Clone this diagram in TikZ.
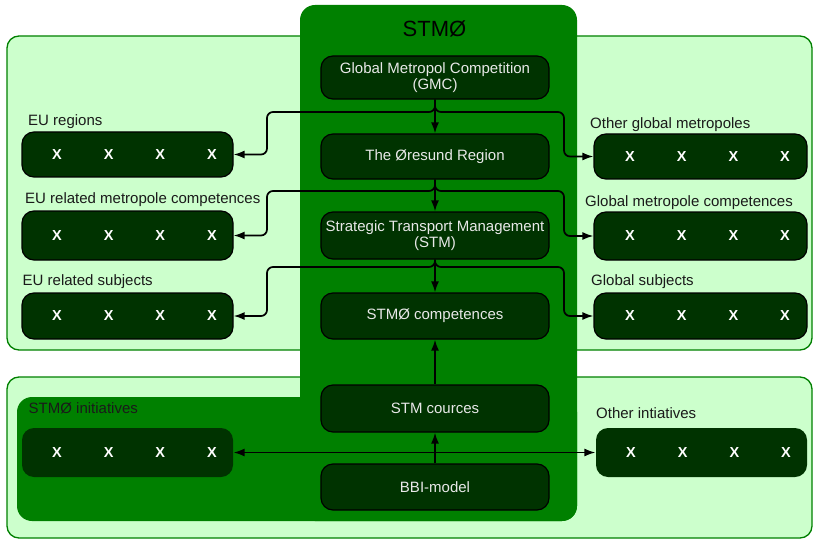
\documentclass[tikz,border=0pt]{standalone}
\usepackage{fontspec}
\setmainfont{Liberation Sans}
\usetikzlibrary{arrows.meta}
\definecolor{lightgreen}{HTML}{CCFFCC}
\definecolor{midgreen}{HTML}{008000}
\definecolor{darkgreen}{HTML}{003300}
\definecolor{nodetext}{HTML}{E8E8E8}
\definecolor{labeltext}{HTML}{1A1A1A}
\newcommand\xrow{\hspace*{14pt}X\hspace{42pt}X\hspace{42pt}X\hspace{42pt}X}
\begin{document}
\begin{tikzpicture}[x=1pt,y=-1pt,
  panel/.style={fill=lightgreen, draw=midgreen, line width=1.3pt, rounded corners=12pt},
  core/.style={fill=midgreen, rounded corners=15pt},
  stepbox/.style={fill=darkgreen, draw=black, line width=1.2pt, rounded corners=12pt,
    minimum width=228pt, text=nodetext, font=\fontsize{15}{15.5}\selectfont,
    align=center, inner sep=0pt},
  xbox/.style={fill=darkgreen, draw=black, line width=1.2pt, rounded corners=12pt,
    minimum width=211pt, text=white, font=\fontsize{14.5}{16}\selectfont\bfseries, inner sep=0pt},
  xboxplain/.style={xbox, draw=none},
  lab/.style={anchor=base west, text=labeltext, font=\fontsize{15}{16}\selectfont, inner sep=0pt},
  conn/.style={draw=black, line width=1.7pt, -{Latex[length=11pt,width=8pt]}},
  bconn/.style={draw=black, line width=1.7pt, {Latex[length=11pt,width=8pt]}-{Latex[length=11pt,width=8pt]}}
]
\useasboundingbox (0,0) rectangle (813,540);

% panels
\fill[white] (0,0) rectangle (813,540);
\draw[panel] (7,36) rectangle (812,350);
\draw[panel] (7,377) rectangle (812,538);
\fill[core] (300,5) rectangle (577,521);
\fill[core] (17,397) rectangle (577,521);

% title
\node[anchor=base, font=\fontsize{22}{24}\selectfont, text=black, inner sep=0pt] (title) at (434.5,37) {STMØ};

% central column
\node[stepbox, minimum height=43pt] (gmc) at (435,77.5) {Global Metropol Competition\\(GMC)};
\node[stepbox, minimum height=45pt] (ore) at (435,156.5) {The Øresund Region};
\node[stepbox, minimum height=47pt] (stm) at (435,235.5) {Strategic Transport Management\\(STM)};
\node[stepbox, minimum height=46pt] (comp) at (435,316) {STMØ competences};
\node[stepbox, minimum height=47pt] (cour) at (435,408.5) {STM cources};
\node[stepbox, minimum height=46pt] (bbi) at (435,487) {BBI-model};

% left boxes
\node[xbox, minimum height=45pt] (eureg) at (127.5,154.5) {\xrow};
\node[xbox, minimum height=49pt] (eumet) at (127.5,235.5) {\xrow};
\node[xbox, minimum height=46pt] (eusub) at (127.5,316) {\xrow};
\node[xboxplain, minimum height=49pt] (init) at (127.5,452.5) {\xrow};

% right boxes
\node[xbox, minimum width=213pt, minimum height=45pt] (glreg) at (700.5,156.5) {\xrow};
\node[xbox, minimum width=213pt, minimum height=48pt] (glmet) at (700.5,236) {\xrow};
\node[xbox, minimum width=213pt, minimum height=46pt] (glsub) at (700.5,316) {\xrow};
\node[xboxplain, minimum height=49pt] (oinit) at (701.5,452.5) {\xrow};

% labels
\node[lab] (l-eureg) at (28,125.5) {EU regions};
\node[lab] (l-eumet) at (25,203.5) {EU related metropole competences};
\node[lab] (l-eusub) at (22.5,285.5) {EU related subjects};
\node[lab] (l-init) at (28.5,413.5) {STMØ initiatives};
\node[lab] (l-glreg) at (590,128.5) {Other global metropoles};
\node[lab] (l-glmet) at (585,206) {Global metropole competences};
\node[lab] (l-glsub) at (591,285.5) {Global subjects};
\node[lab] (l-oinit) at (596,418.5) {Other intiatives};

% junction coordinates
\coordinate (jl1) at (267,112);
\coordinate (jr1) at (564,112);
\coordinate (jl2) at (267,191);
\coordinate (jr2) at (564,191);
\coordinate (jl3) at (267,267);
\coordinate (jr3) at (564,267);

% connectors
\draw[conn] (gmc.south) -- (ore.north);
\draw[conn, rounded corners=6pt] (gmc.south) |- (jl1) |- (eureg.east);
\draw[conn, rounded corners=6pt] (gmc.south) |- (jr1) |- (glreg.west);

\draw[conn] (ore.south) -- (stm.north);
\draw[conn, rounded corners=6pt] (ore.south) |- (jl2) |- (eumet.east);
\draw[conn, rounded corners=6pt] (ore.south) |- (jr2) |- (glmet.west);

\draw[conn] (stm.south) -- (comp.north);
\draw[conn, rounded corners=6pt] (stm.south) |- (jl3) |- (eusub.east);
\draw[conn, rounded corners=6pt] (stm.south) |- (jr3) |- (glsub.west);

\draw[conn] (cour.north) -- (comp.south);
\draw[conn] (bbi.north) -- (cour.south);
\draw[bconn] (init.east) -- (oinit.west);
\end{tikzpicture}
\end{document}
